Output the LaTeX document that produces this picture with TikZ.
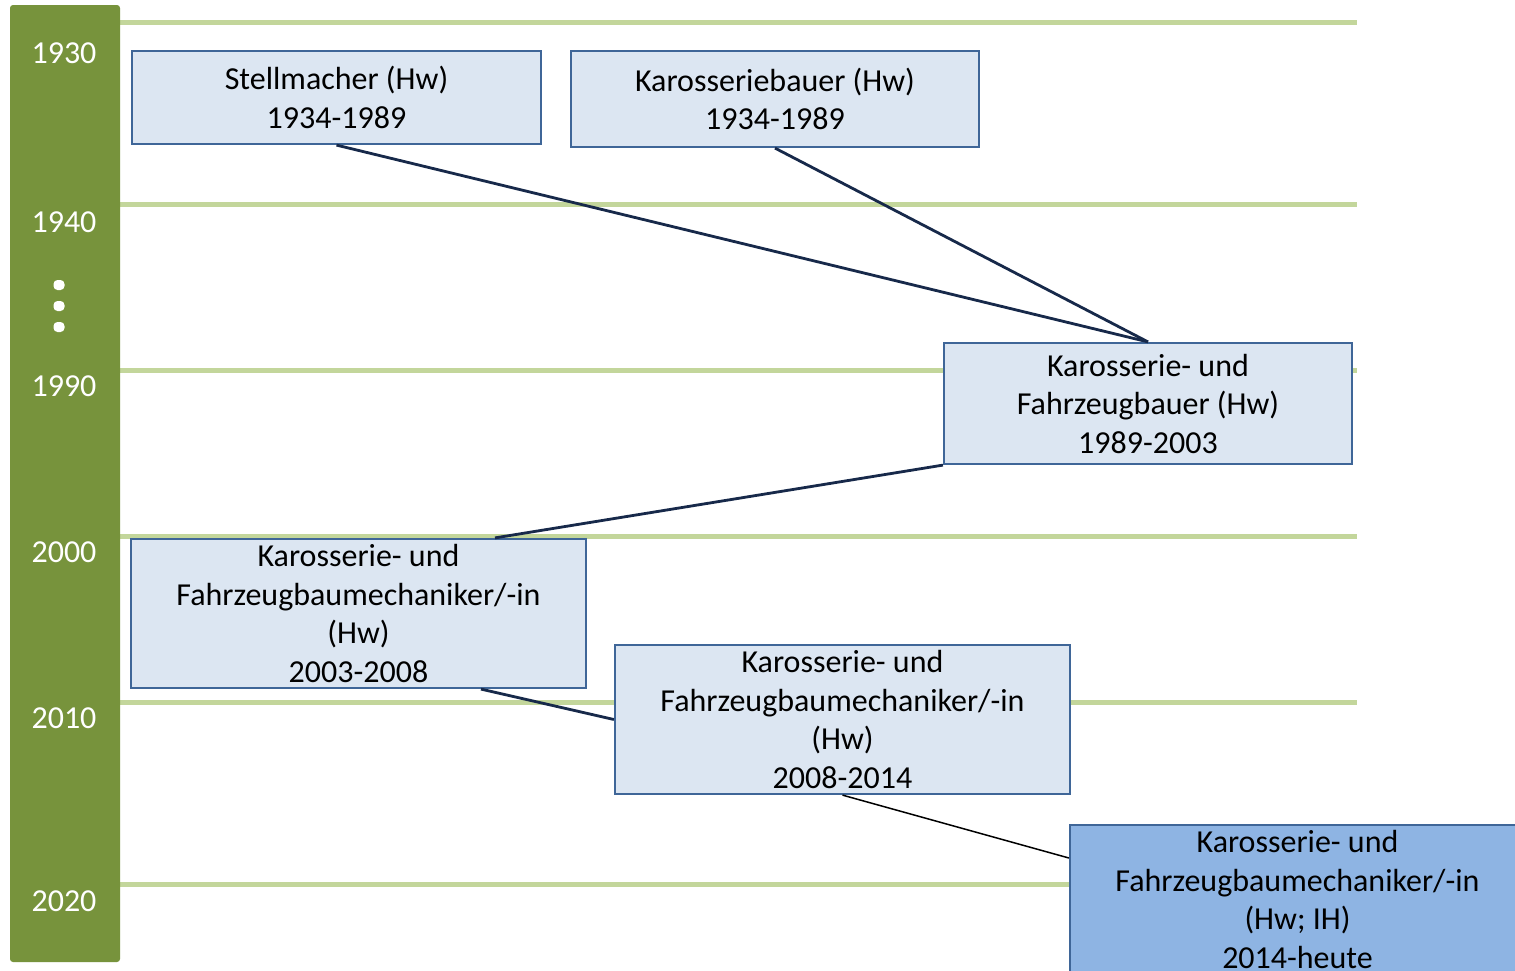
\documentclass[tikz,border=0pt]{standalone}
\usepackage{fontspec}
\setmainfont{Carlito}
\begin{document}
\begin{tikzpicture}[x=1pt,y=-1pt,
  every node/.style={font=\fontsize{32}{38.5}\selectfont},
  grid/.style={draw=gridgreen,line width=5pt},
  year/.style={text=white,inner sep=0pt},
  period/.style={draw=boxborder,line width=2.2pt,fill=boxfill,inner sep=0pt,
    minimum width=#1,align=center},
  link/.style={draw=linknavy,line width=2.8pt},
  thinlink/.style={draw=black,line width=1.5pt}]
\definecolor{bargreen}{HTML}{77933C}
\definecolor{gridgreen}{HTML}{C3D69B}
\definecolor{boxfill}{HTML}{DCE6F2}
\definecolor{boxborder}{HTML}{3F6698}
\definecolor{boxcurrent}{HTML}{8EB4E3}
\definecolor{linknavy}{HTML}{17294A}
\clip (0,0) rectangle (1515,970);
\fill[white] (0,0) rectangle (1515,970);

% decade grid lines
\foreach \yy in {22,204,370,536,702,884}
  \draw[grid] (118,\yy) -- (1357,\yy);

% time axis bar
\fill[bargreen,rounded corners=3pt] (10,5) rectangle (120,962);
\node[year] (y1930) at (64,53) {1930};
\node[year] (y1940) at (64,222) {1940};
\node[year] (y1990) at (64,386) {1990};
\node[year] (y2000) at (64,552) {2000};
\node[year] (y2010) at (64,718) {2010};
\node[year] (y2020) at (64,901) {2020};
\foreach \yy in {285,306,327}
  \fill[white,rounded corners=4pt] (53.5,\yy-5) rectangle (64.5,\yy+5);

% occupations
\node[period=409pt,minimum height=93pt] (stell) at (336.5,97.5)
  {Stellmacher (Hw)\\1934-1989};
\node[period=408pt,minimum height=96pt] (karb) at (775,99)
  {Karosseriebauer (Hw)\\1934-1989};
\node[period=408pt,minimum height=121pt] (kfb) at (1148,403.5)
  {Karosserie- und\\Fahrzeugbauer (Hw)\\1989-2003};
\node[period=455pt,minimum height=149pt] (kfm1) at (358.5,613.5)
  {Karosserie- und\\Fahrzeugbaumechaniker/-in\\(Hw)\\2003-2008};
\node[period=455pt,minimum height=149pt] (kfm2) at (842.5,719.5)
  {Karosserie- und\\Fahrzeugbaumechaniker/-in\\(Hw)\\2008-2014};
\node[period=455pt,minimum height=149pt,fill=boxcurrent] (kfm3) at (1297.5,899.5)
  {Karosserie- und\\Fahrzeugbaumechaniker/-in\\(Hw; IH)\\2014-heute};

% succession links
\draw[link] (stell.south) -- (kfb.north);
\draw[link] (karb.south) -- (kfb.north);
\draw[link] (kfb.south west) -- ([xshift=136.5pt]kfm1.north);
\draw[link] ([xshift=122.5pt]kfm1.south) -- (kfm2.west);
\draw[thinlink] (kfm2.south) -- ([yshift=41.5pt]kfm3.west);
\end{tikzpicture}
\end{document}
